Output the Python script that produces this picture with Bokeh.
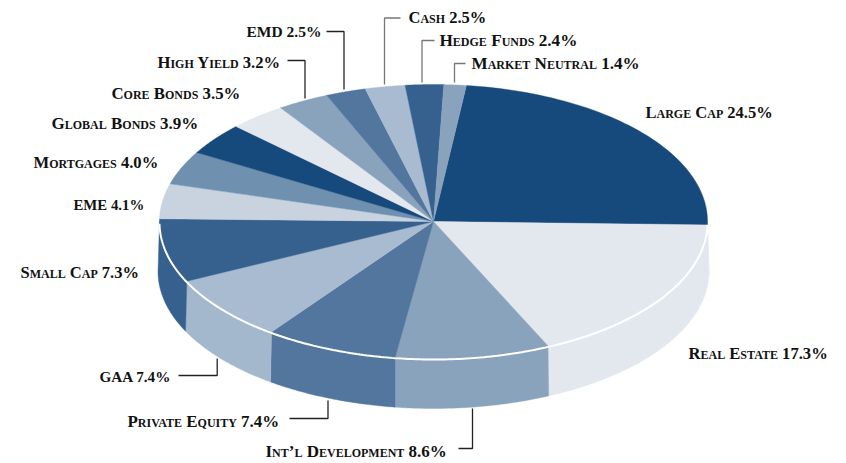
import numpy as np
from bokeh.plotting import figure
from bokeh.models import ColumnDataSource, Range1d
from bokeh.core.properties import value
from bokeh.embed import file_html
from bokeh.resources import INLINE

categories = ["Large Cap", "Real Estate", "Int\u2019l Development", "Private Equity", "GAA",
              "Small Cap", "EME", "Mortgages", "Global Bonds", "Core Bonds", "High Yield",
              "EMD", "Cash", "Hedge Funds", "Market Neutral"]
values = [24.5, 17.3, 8.6, 7.4, 7.4, 7.3, 4.1, 4.0, 3.9, 3.5, 3.2, 2.5, 2.5, 2.4, 1.4]
colors = ["#174a7c", "#e3e8ef", "#8aa3bd", "#52769d", "#a8bbd1", "#36618f", "#c8d3df",
          "#7090b0", "#174a7c", "#e3e8ef", "#8aa3bd", "#52769d", "#a8bbd1", "#36618f", "#8aa3bd"]
wall_colors = ["#e3e8ef", "#e3e8ef", "#8aa3bd", "#52769d", "#a3b7cd", "#36618f", "#c8d3df",
               "#7090b0", "#174a7c", "#e3e8ef", "#8aa3bd", "#52769d", "#a8bbd1", "#36618f", "#8aa3bd"]
label_left = [645, 688, 265, 127, 99, 20, 73, 33, 51, 111, 157, 246, 408, 439, 471]
label_y = [112, 353, 451, 421, 376, 272, 204, 162, 123, 93, 62, 31, 17, 40, 63]
label_size = ["16.5px", "16.6px", "17px", "16.9px", "15.2px", "16.5px", "14.8px", "16.6px",
              "17px", "16.8px", "16.6px", "15.5px", "16.5px", "17.2px", "17.1px"]
leaders = {
    "High Yield": ([287, 304.5, 304.5], [60, 60, 98], "#222222"),
    "EMD": ([326, 343.5, 343.5], [31, 31, 89], "#222222"),
    "Cash": ([400, 384, 384], [17.5, 17.5, 84], "#777777"),
    "Hedge Funds": ([434, 421.5, 421.5], [40, 40, 82], "#777777"),
    "Market Neutral": ([465, 454, 454], [63, 63, 82], "#777777"),
    "GAA": ([178, 216.7, 216.7], [375, 375, 358], "#222222"),
    "Private Equity": ([289, 327.5, 327.5], [418, 418, 400], "#222222"),
    "Int\u2019l Development": ([458, 472, 472], [448, 448, 408], "#222222"),
}

CX, CY, RX, RY, DEPTH = 433.0, 221.0, 274.0, 137.0, 50.0
START = 6.7
SKEW = 3.5
W, H = 846, 463


def warp(t):
    return t - SKEW * np.sin(np.radians(t - 10))


def rim(t, rx=RX, ry=RY):
    r = np.radians(t)
    return CX + rx * np.sin(r), CY - ry * np.cos(r)


cum = np.concatenate([[0], np.cumsum(values)])
edges = warp(START + 3.6 * cum * 100 / cum[-1])

top_x, top_y, wall_x, wall_y, wall_c = [], [], [], [], []
for i in range(len(values)):
    ts = np.linspace(edges[i], edges[i + 1], 60)
    x, y = rim(ts)
    top_x.append(np.concatenate([[CX], x]).tolist())
    top_y.append(np.concatenate([[CY], y]).tolist())
    a, b = max(edges[i], 90.0), min(edges[i + 1], 270.0)
    if b > a:
        ws = np.linspace(a, b, 60)
        ux, uy = rim(ws)
        lx, ly = rim(ws[::-1], rx=RX + 1.5)
        wall_x.append(np.concatenate([ux, lx]).tolist())
        wall_y.append(np.concatenate([uy, ly + DEPTH]).tolist())
        wall_c.append(wall_colors[i])

p = figure(width=W, height=H, output_backend="svg", toolbar_location=None,
           x_range=Range1d(0, W), y_range=Range1d(H, 0),
           min_border=0, outline_line_color=None, background_fill_color="white",
           border_fill_color="white")
p.axis.visible = False
p.grid.visible = False
p.styles = {"font-variant": "small-caps"}

p.patches("x", "y", fill_color="c", line_color="c", line_width=0.4,
          source=ColumnDataSource(dict(x=wall_x, y=wall_y, c=wall_c)))
p.patches("x", "y", fill_color="c", line_color="c", line_width=0.4,
          source=ColumnDataSource(dict(x=top_x, y=top_y, c=colors)))

arc_t = np.linspace(91, 269.5, 240)
ax, ay = rim(arc_t)
p.line(ax, ay + 1, line_color="white", line_width=2)

for name, (lx, ly, col) in leaders.items():
    p.line(lx, ly, line_color=col, line_width=1.3)

labels = [f"{c} {v:.1f}%" for c, v in zip(categories, values)]
p.text(x="x", y="y", text="t", text_font=value("Liberation Serif"),
       text_font_style="bold", text_font_size="s", text_color="#111111",
       text_align="left", text_baseline="middle",
       source=ColumnDataSource(dict(x=label_left, y=label_y, t=labels, s=label_size)))

open("out.html", "w").write(file_html(p, INLINE))
